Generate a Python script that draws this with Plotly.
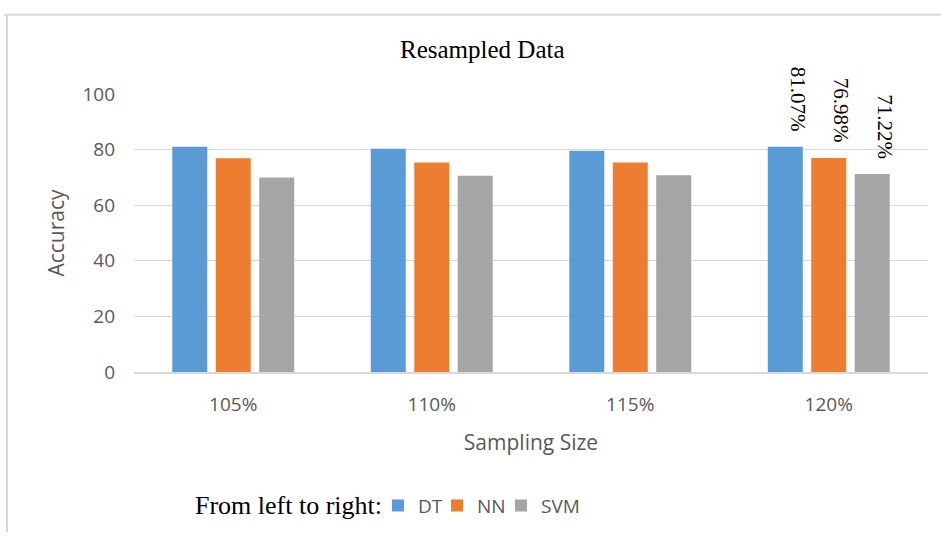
import plotly.graph_objects as go

# Accuracy (%) of each classifier per resampling size
sampling_sizes = ["105%", "110%", "115%", "120%"]
dt_acc = [81.0, 80.3, 79.6, 81.07]
nn_acc = [76.9, 75.4, 75.4, 76.98]
svm_acc = [70.0, 70.6, 70.8, 71.22]
y_ticks = [0, 20, 40, 60, 80, 100]

W, H = 941, 537
ML, MR, MT, MB = 134, 13, 94, 162
PW, PH = W - ML - MR, H - MT - MB
BARGAP, BARGROUPGAP = 0.343, 0.195


def px_x(x):
    return (x - ML) / PW


def px_y(y):
    return (H - MB - y) / PH


# name, values, colour, legend id, legend left edge (px)
series = [
    ("DT", dt_acc, "#5b9bd5", "legend", 378),
    ("NN", nn_acc, "#ed7d31", "legend2", 437),
    ("SVM", svm_acc, "#a5a5a5", "legend3", 501),
]

fig = go.Figure()
for name, vals, color, leg, _ in series:
    fig.add_trace(go.Bar(
        name=name,
        x=sampling_sizes,
        y=vals,
        marker=dict(color=color, line=dict(width=0)),
        legend=leg,
    ))

# Value labels for the last group, written vertically just above each bar
band_px = PW / len(sampling_sizes)
slot_px = band_px * (1 - BARGAP) / len(series)
label_annotations = []
for i, (name, vals, color, _, _) in enumerate(series):
    label_annotations.append(dict(
        text=f"{vals[-1]:.2f}%",
        x=sampling_sizes[-1], y=vals[-1],
        xref="x", yref="y",
        xanchor="center", yanchor="bottom",
        xshift=(i - (len(series) - 1) / 2) * slot_px + 13,
        yshift=13,
        textangle=90,
        showarrow=False,
        font=dict(family="Liberation Serif", size=21, color="#000000"),
    ))

tick_font = dict(family="Open Sans", size=19, color="#595959")
title_font = dict(family="Open Sans", size=21, color="#595959")

legend_style = dict(
    orientation="h",
    xanchor="left",
    y=px_y(510),
    yanchor="middle",
    font=dict(family="Open Sans", size=19, color="#595959"),
    bgcolor="rgba(0,0,0,0)",
)

fig.update_layout(
    width=W,
    height=H,
    margin=dict(l=ML, r=MR, t=MT, b=MB),
    paper_bgcolor="#ffffff",
    plot_bgcolor="#ffffff",
    barmode="group",
    bargap=BARGAP,
    bargroupgap=BARGROUPGAP,
    showlegend=True,
    xaxis=dict(
        showgrid=False,
        showline=True,
        linecolor="#d9d9d9",
        linewidth=1.5,
        ticks="",
        tickfont=tick_font,
        ticklabelstandoff=14,
        title=dict(text="Sampling Size", font=title_font, standoff=20),
    ),
    yaxis=dict(
        range=[0, 100],
        tickvals=y_ticks,
        showgrid=True,
        gridcolor="#d9d9d9",
        gridwidth=1,
        zeroline=False,
        showline=False,
        ticks="",
        tickfont=tick_font,
        ticklabelstandoff=18,
        title=dict(text="Accuracy", font=title_font, standoff=12),
    ),
    annotations=[
        dict(
            text="Resampled Data",
            xref="paper", yref="paper",
            x=px_x(482), y=px_y(49),
            xanchor="center", yanchor="middle",
            showarrow=False,
            font=dict(family="Liberation Serif", size=25, color="#000000"),
        ),
        dict(
            text="From left to right:",
            xref="paper", yref="paper",
            x=px_x(384), y=px_y(510),
            xanchor="right", yanchor="middle",
            showarrow=False,
            font=dict(family="Liberation Serif", size=26, color="#000000"),
        ),
    ] + label_annotations,
    shapes=[
        dict(type="line", xref="paper", yref="paper",
             x0=px_x(4), x1=px_x(941), y0=px_y(14), y1=px_y(14),
             line=dict(color="#d9d9d9", width=2)),
        dict(type="line", xref="paper", yref="paper",
             x0=px_x(7), x1=px_x(7), y0=px_y(14), y1=px_y(537),
             line=dict(color="#d9d9d9", width=2)),
    ],
)

for name, vals, color, leg, left in series:
    fig.update_layout({leg: dict(legend_style, x=px_x(left))})

fig.write_html("out.html")
